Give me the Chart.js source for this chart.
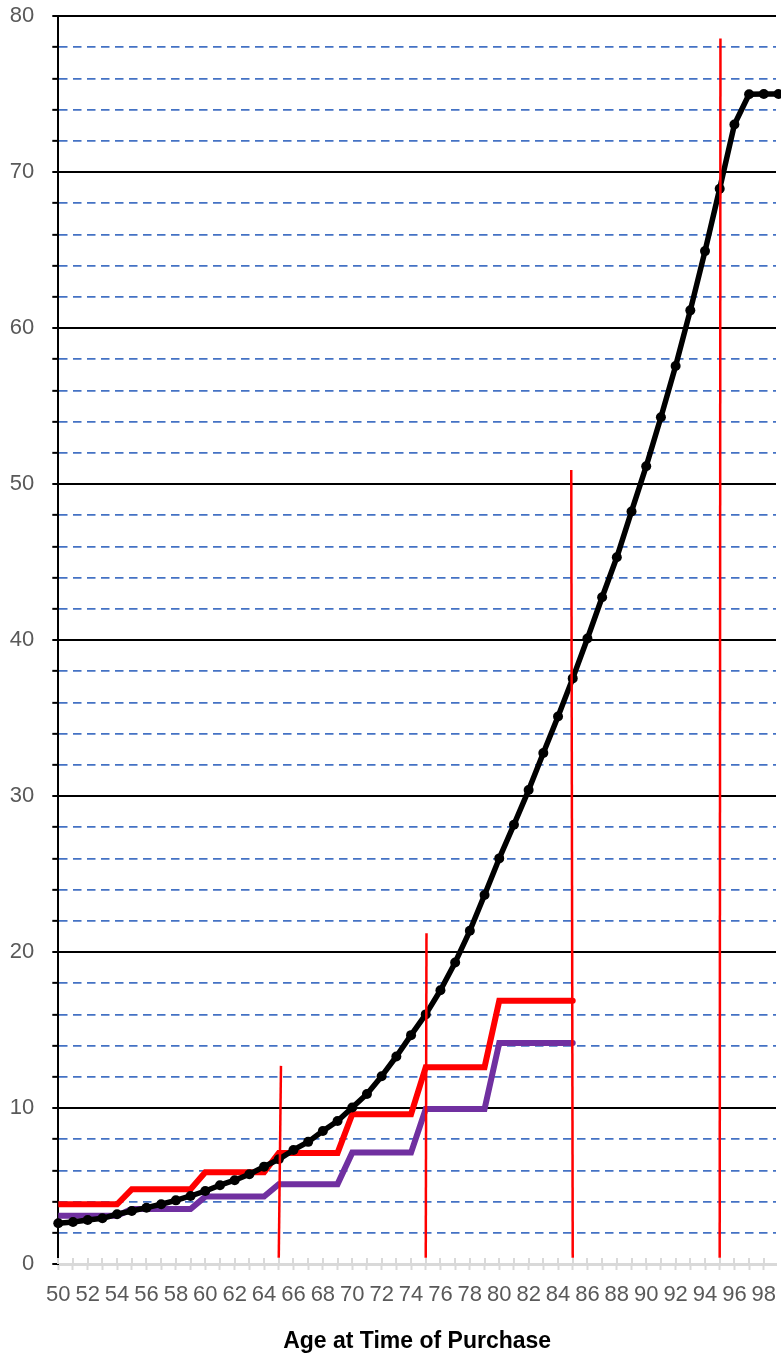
<!DOCTYPE html>
<html>
<head>
<meta charset="utf-8">
<title>Age at Time of Purchase</title>
<script src="https://cdn.jsdelivr.net/npm/chart.js@4.4.1/dist/chart.umd.min.js"></script>
<style>
  html, body { margin: 0; padding: 0; background: #fff; overflow: hidden; }
  #wrap { width: 781px; height: 1355px; }
</style>
</head>
<body>
<div id="wrap"><canvas id="chart" width="781" height="1355"></canvas></div>
<script>
// ages on the x axis, one point per year
const ages = [50, 51, 52, 53, 54, 55, 56, 57, 58, 59,
              60, 61, 62, 63, 64, 65, 66, 67, 68, 69,
              70, 71, 72, 73, 74, 75, 76, 77, 78, 79,
              80, 81, 82, 83, 84, 85, 86, 87, 88, 89,
              90, 91, 92, 93, 94, 95, 96, 97, 98, 99];

// black curve with dots
const curveValues = [2.61, 2.69, 2.82, 2.93, 3.19, 3.40, 3.61, 3.83, 4.08, 4.36,
                     4.68, 5.05, 5.37, 5.75, 6.24, 6.71, 7.31, 7.83, 8.53, 9.17,
                     10.03, 10.9, 12.04, 13.3, 14.67, 16.0, 17.55, 19.33, 21.36, 23.65,
                     26.0, 28.16, 30.38, 32.76, 35.1, 37.54, 40.1, 42.74, 45.3, 48.24,
                     51.14, 54.28, 57.56, 61.13, 64.93, 68.93, 73.04, 74.98, 75.0, 75.0];

// step lines, ages 50..85
const stepAges = ages.slice(0, 36);
const redStepValues = [3.83, 3.83, 3.83, 3.83, 3.83, 4.79, 4.79, 4.79, 4.79, 4.79,
                       5.88, 5.88, 5.88, 5.88, 5.88, 7.12, 7.12, 7.12, 7.12, 7.12,
                       9.6, 9.6, 9.6, 9.6, 9.6, 12.62, 12.62, 12.62, 12.62, 12.62,
                       16.87, 16.87, 16.87, 16.87, 16.87, 16.87];
const purpleStepValues = [3.1, 3.1, 3.1, 3.1, 3.1, 3.53, 3.53, 3.53, 3.53, 3.53,
                          4.32, 4.32, 4.32, 4.32, 4.32, 5.12, 5.12, 5.12, 5.12, 5.12,
                          7.14, 7.14, 7.14, 7.14, 7.14, 9.93, 9.93, 9.93, 9.93, 9.93,
                          14.16, 14.16, 14.16, 14.16, 14.16, 14.16];

// red vertical markers
const markerAges = [65, 75, 85, 95];
const markerTopAges = [65.15, 75.05, 84.9, 95.05];
const markerTops = [12.7, 21.2, 50.9, 78.55];
const markerBottom = 0.4;

const xTitle = "Age at Time of Purchase";

Chart.defaults.font.family = "'Liberation Sans', Arial, sans-serif";

const toPoints = (xs, ys) => xs.map((x, i) => ({ x: x, y: ys[i] }));

const markerSets = markerAges.map((a, i) => ({
  data: [{ x: a, y: markerBottom }, { x: markerTopAges[i], y: markerTops[i] }],
  borderColor: "#ff0000",
  borderWidth: 2.5,
  pointRadius: 0,
  order: 0
}));

// grey tick stubs above the x axis (Excel "cross" tick marks)
const crossTicks = {
  id: "crossTicks",
  beforeDatasetsDraw(chart) {
    const xs = chart.scales.x;
    const ctx = chart.ctx;
    const bottom = chart.chartArea.bottom;
    ctx.save();
    ctx.strokeStyle = "#d9d9d9";
    ctx.lineWidth = 2;
    xs.ticks.forEach(t => {
      const px = Math.round(xs.getPixelForValue(t.value));
      ctx.beginPath();
      ctx.moveTo(px, bottom - 6);
      ctx.lineTo(px, bottom);
      ctx.stroke();
    });
    ctx.restore();
  }
};

new Chart(document.getElementById("chart").getContext("2d"), {
  type: "line",
  data: {
    datasets: [
      ...markerSets,
      {
        data: toPoints(ages, curveValues),
        borderColor: "#000",
        backgroundColor: "#000",
        borderWidth: 5.5,
        borderJoinStyle: "round",
        pointRadius: 5,
        pointBorderWidth: 0,
        pointBackgroundColor: "#000",
        clip: false,
        order: 1
      },
      {
        data: toPoints(stepAges, redStepValues),
        borderColor: "#ff0000",
        borderWidth: 6,
        borderCapStyle: "round",
        pointRadius: 0,
        order: 2
      },
      {
        data: toPoints(stepAges, purpleStepValues),
        borderColor: "#7030a0",
        borderWidth: 6,
        borderCapStyle: "round",
        pointRadius: 0,
        order: 3
      }
    ]
  },
  options: {
    responsive: false,
    animation: false,
    layout: { padding: { left: 10, right: 0, top: 16, bottom: 0 } },
    plugins: {
      legend: { display: false },
      tooltip: { enabled: false }
    },
    scales: {
      x: {
        type: "linear",
        min: 50,
        max: 98.83,
        afterFit: s => { s.paddingRight = 0; },
        grid: {
          drawOnChartArea: false,
          drawTicks: true,
          tickLength: 6,
          tickWidth: 2,
          tickColor: "#d9d9d9"
        },
        border: { display: true, color: "#d9d9d9", width: 3 },
        ticks: {
          stepSize: 1,
          autoSkip: false,
          includeBounds: false,
          maxRotation: 0,
          padding: 12,
          color: "#595959",
          font: { size: 22 },
          callback: v => (Number.isInteger(v) && v % 2 === 0) ? String(v) : ""
        },
        title: {
          display: true,
          text: xTitle,
          color: "#000",
          font: { size: 23, weight: "bold" },
          padding: { top: 7, bottom: 0 }
        }
      },
      y: {
        min: 0,
        max: 80,
        afterFit: s => { s.width = 48.3; s.paddingTop = 0; s.paddingBottom = 0; },
        grid: {
          color: c => c.tick.value === 0 ? "rgba(0,0,0,0)" : (c.tick.value % 10 === 0 ? "#000" : "#4472c4"),
          lineWidth: c => c.tick.value % 10 === 0 ? 2 : 1.7,
          tickColor: "#000",
          tickLength: 6,
          tickWidth: 2
        },
        border: {
          display: true,
          color: "#000",
          width: 2,
          dash: c => (c.tick && c.tick.value % 10 !== 0) ? [8.5, 5.5] : []
        },
        ticks: {
          stepSize: 2,
          autoSkip: false,
          padding: 18,
          color: "#595959",
          font: { size: 22 },
          callback: v => v % 10 === 0 ? String(v) : ""
        }
      }
    }
  },
  plugins: [crossTicks]
});
</script>
</body>
</html>
